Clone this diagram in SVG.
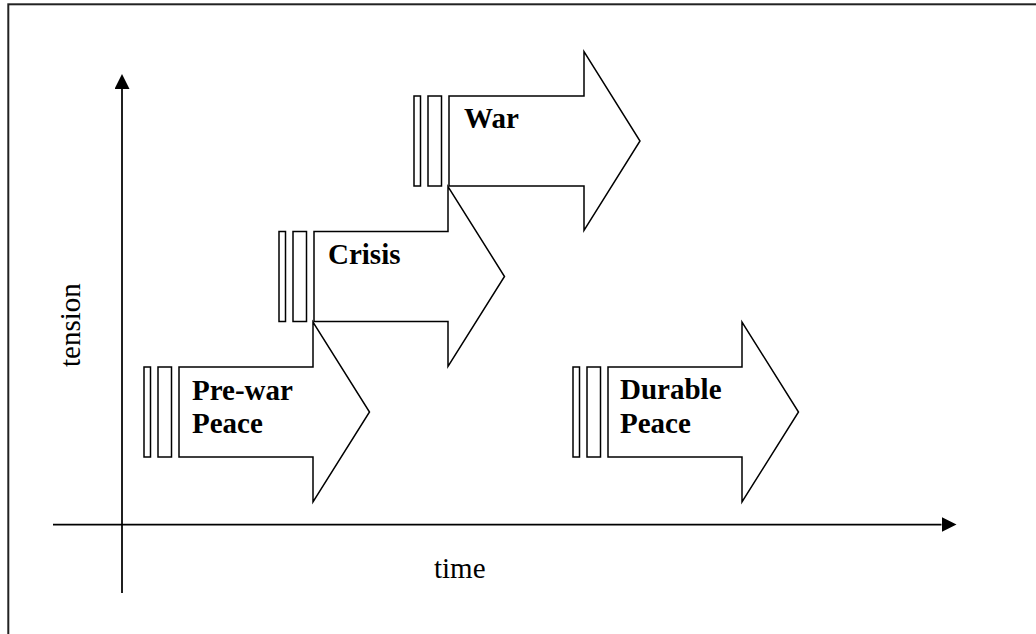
<svg xmlns="http://www.w3.org/2000/svg" width="1036" height="634" viewBox="0 0 1036 634">
<style>
.frame{fill:none;stroke:#222;stroke-width:2}
.axis{fill:none;stroke:#000;stroke-width:1.75}
.shape{fill:#fff;stroke:#000;stroke-width:1.5;stroke-linejoin:miter}
.lbl{font-family:"Liberation Serif","Times New Roman",serif;font-weight:bold;font-size:29px;fill:#000}
.axlbl{font-family:"Liberation Serif","Times New Roman",serif;font-size:29px;fill:#000}
</style>
<defs>
<marker id="ah" markerUnits="userSpaceOnUse" markerWidth="16" markerHeight="16" refX="0" refY="7.5" orient="auto" viewBox="0 0 16 16">
<path d="M0,0 L15,7.5 L0,15 z" fill="#000"/>
</marker>
</defs>
<rect class="frame" x="8.3" y="4.3" width="1040" height="640"/>
<g id="connectors">
<line class="axis" x1="122" y1="593" x2="122" y2="89" marker-end="url(#ah)"/>
<line class="axis" x1="53" y1="524.5" x2="941.5" y2="524.5" marker-end="url(#ah)"/>
</g>
<g id="axis-labels">
<text class="axlbl" x="434" y="578">time</text>
<text class="axlbl" transform="translate(80,367) rotate(-90)">tension</text>
</g>
<g id="prewar">
<rect class="shape" x="144" y="367" width="6.5" height="90"/>
<rect class="shape" x="158" y="367" width="13.5" height="90"/>
<polygon class="shape" points="179,367 313,367 313,322 369.5,412 313,502 313,457 179,457"/>
<text class="lbl" x="192" y="400">Pre-war</text>
<text class="lbl" x="192" y="433">Peace</text>
</g>
<g id="crisis">
<rect class="shape" x="279" y="231.5" width="6.5" height="90"/>
<rect class="shape" x="293" y="231.5" width="13.5" height="90"/>
<polygon class="shape" points="314,231.5 448,231.5 448,186.5 504.5,276.5 448,366.5 448,321.5 314,321.5"/>
<text class="lbl" x="328" y="264">Crisis</text>
</g>
<g id="war">
<rect class="shape" x="414" y="96" width="6.5" height="90"/>
<rect class="shape" x="428" y="96" width="13.5" height="90"/>
<polygon class="shape" points="449,96 584,96 584,51.5 640,141 584,230.5 584,186 449,186"/>
<text class="lbl" x="464" y="128">War</text>
</g>
<g id="durable">
<rect class="shape" x="573" y="367" width="6.5" height="90"/>
<rect class="shape" x="587" y="367" width="13.5" height="90"/>
<polygon class="shape" points="608,367 742,367 742,322 798.5,412 742,502 742,457 608,457"/>
<text class="lbl" x="620" y="399">Durable</text>
<text class="lbl" x="620" y="433">Peace</text>
</g>
</svg>
